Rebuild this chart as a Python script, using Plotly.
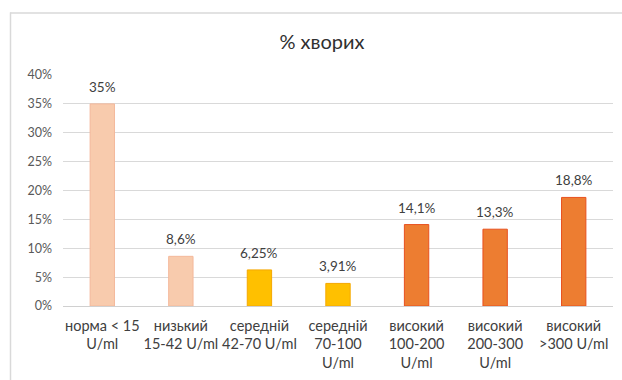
import plotly.graph_objects as go

categories = [
    "норма < 15<br>U/ml",
    "низький<br>15-42 U/ml",
    "середній<br>42-70 U/ml",
    "середній<br>70-100<br>U/ml",
    "високий<br>100-200<br>U/ml",
    "високий<br>200-300<br>U/ml",
    "високий<br>>300 U/ml",
]
values = [35, 8.6, 6.25, 3.91, 14.1, 13.3, 18.8]
value_labels = ["35%", "8,6%", "6,25%", "3,91%", "14,1%", "13,3%", "18,8%"]
fill_colors = ["#F8CBAD", "#F8CBAD", "#FFC000", "#FFC000", "#ED7D31", "#ED7D31", "#ED7D31"]
line_colors = ["#F4B89A", "#F4B89A", "#F5A800", "#F5A800", "#E8501E", "#E8501E", "#E8501E"]
y_ticks = [0, 5, 10, 15, 20, 25, 30, 35, 40]
y_tick_labels = [f"{t}%" for t in y_ticks]

W, H = 622, 380
L, R, T, B = 63, 9, 75, 72
pw, ph = W - L - R, H - T - B

fig = go.Figure(
    go.Bar(
        x=categories,
        y=values,
        marker=dict(color=fill_colors, line=dict(color=line_colors, width=1)),
        hoverinfo="skip",
    )
)

for c, v, lab in zip(categories, values, value_labels):
    fig.add_annotation(
        x=c, y=v, text=lab, showarrow=False, yanchor="bottom", yshift=7,
        font=dict(family="Lato, sans-serif", size=13.5, color="#404040"),
    )

# chart frame (top and left edges)
def px_x(x):
    return (x - L) / pw

def px_y(y):
    return (H - B - y) / ph

fig.add_shape(type="line", xref="paper", yref="paper",
              x0=px_x(10), x1=px_x(640), y0=px_y(12.5), y1=px_y(12.5),
              line=dict(color="#D9D9D9", width=1.5))
fig.add_shape(type="line", xref="paper", yref="paper",
              x0=px_x(10.5), x1=px_x(10.5), y0=px_y(12), y1=px_y(400),
              line=dict(color="#D9D9D9", width=1.5))

fig.update_layout(
    width=W, height=H,
    margin=dict(l=L, r=R, t=T, b=B),
    paper_bgcolor="white", plot_bgcolor="white",
    bargap=0.69,
    showlegend=False,
    title=dict(text="% хворих", x=322 / W, xanchor="center", y=1 - 42 / H, yanchor="middle",
               font=dict(family="Lato, sans-serif", size=20, color="#303030")),
    font=dict(family="Lato, sans-serif"),
)
fig.update_yaxes(
    range=[0, 40], tickvals=y_ticks, ticktext=y_tick_labels,
    showgrid=True, gridcolor="#D9D9D9", gridwidth=1,
    zeroline=True, zerolinecolor="#D0D0D0", zerolinewidth=1,
    showline=False, ticks="", ticklabelstandoff=10,
    tickfont=dict(family="Lato, sans-serif", size=12.5, color="#595959"),
    fixedrange=True,
)
fig.update_xaxes(
    showgrid=False, showline=False, ticks="", ticklabelstandoff=9,
    tickfont=dict(family="Lato, sans-serif", size=14.5, color="#404040"),
    tickangle=0, fixedrange=True,
)

fig.write_html("out.html")
